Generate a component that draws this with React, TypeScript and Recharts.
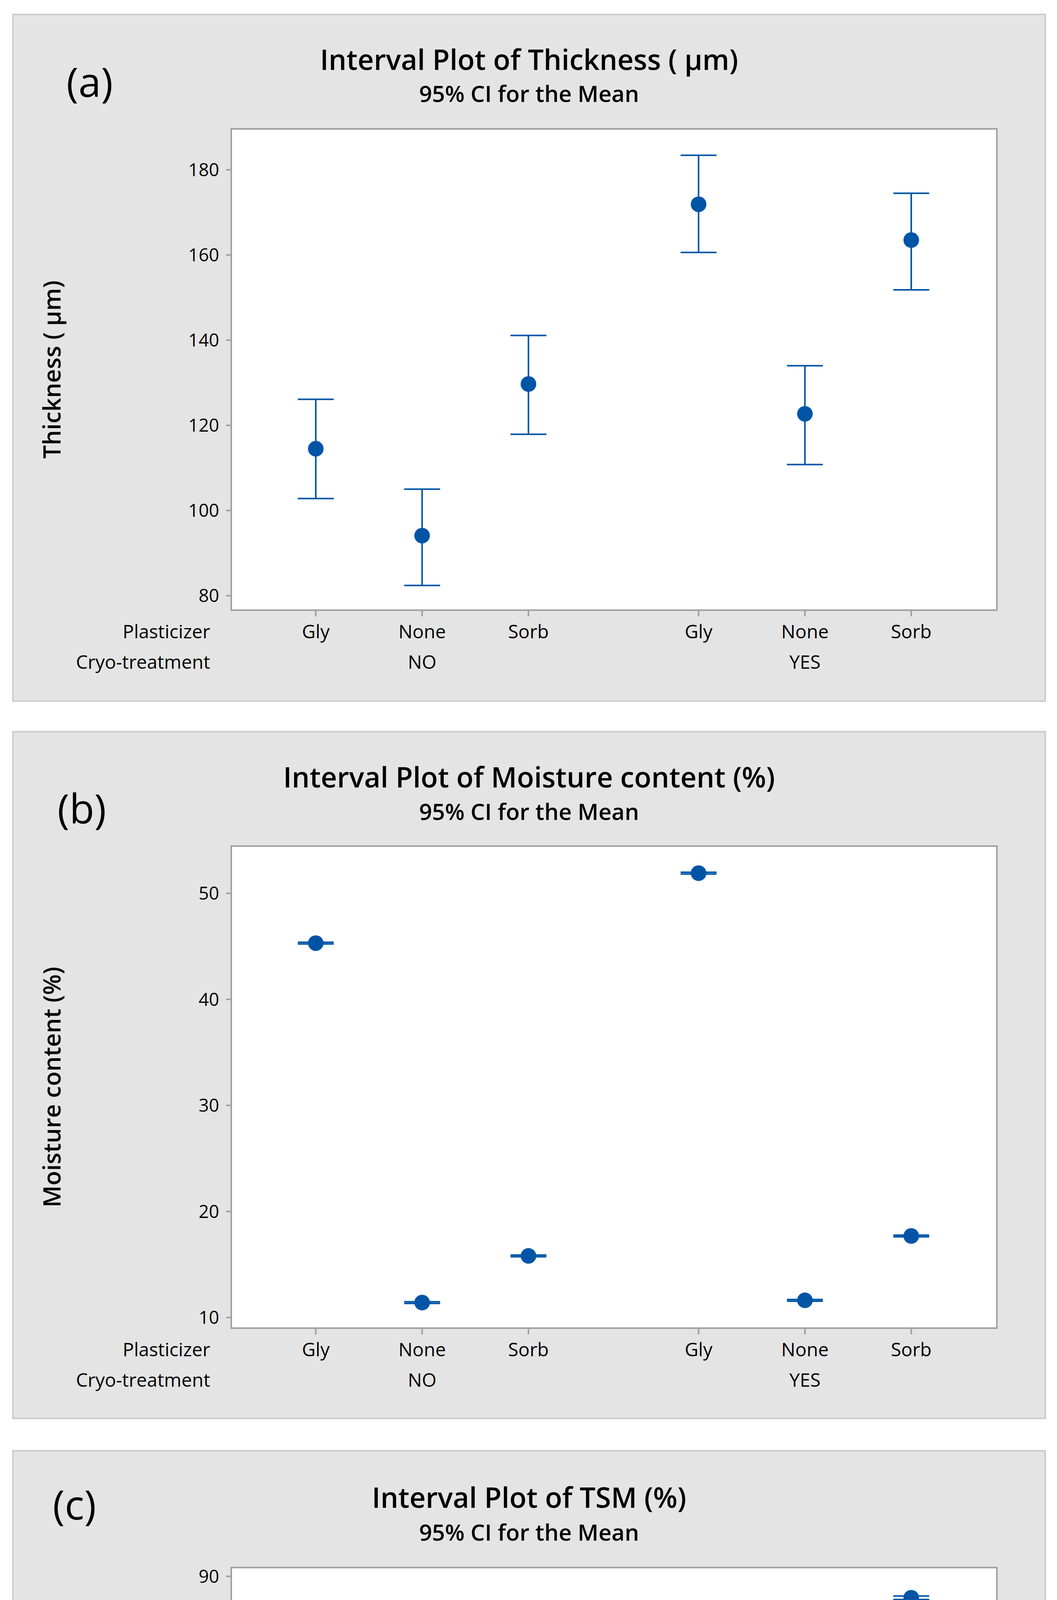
import React from "react";
import {
  ScatterChart,
  Scatter,
  ErrorBar,
  XAxis,
  YAxis,
  CartesianGrid,
  ReferenceArea,
} from "recharts";

// categories
const plasticizers = ["Gly", "None", "Sorb"];
const cryoTreatments = ["NO", "YES"];
const rowLabels = ["Plasticizer", "Cryo-treatment"];

// (a) thickness, µm
const thicknessMean = [114.5, 94.1, 129.7, 171.9, 122.7, 163.5];
const thicknessLower = [102.8, 82.4, 117.9, 160.6, 110.8, 151.8];
const thicknessUpper = [126.1, 105.0, 141.1, 183.4, 134.0, 174.5];
const thicknessTicks = [80, 100, 120, 140, 160, 180];

// (b) moisture content, %
const moistureMean = [45.3, 11.41, 15.81, 51.9, 11.62, 17.69];
const moistureLower = [45.22, 11.33, 15.73, 51.82, 11.54, 17.61];
const moistureUpper = [45.38, 11.49, 15.89, 51.98, 11.7, 17.77];
const moistureTicks = [10, 20, 30, 40, 50];

// (c) TSM, %
const tsmMean = [71.9, 7.45, 72.6, 67.9, 6.85, 85.85];
const tsmLower = [71.39, 6.95, 72.1, 67.53, 6.35, 85.5];
const tsmUpper = [72.42, 7.98, 73.14, 68.24, 7.35, 86.19];
const tsmTicks = [0, 10, 20, 30, 40, 50, 60, 70, 80, 90];

const FONT = "'Open Sans', 'Noto Sans', sans-serif";
const BLUE = "#0054a6";
const AXIS_GRAY = "#a0a0a0";

const BOX_LEFT = 31;
const BOX_W = 2647;
const PLOT_LEFT = 561;
const PLOT_W = 1960;
const ROW_LABEL_X = 507;
const GROUP_GAP = 0.6;

const xPos = cryoTreatments.flatMap((_, g) =>
  plasticizers.map((_, p) => g * (plasticizers.length + GROUP_GAP) + p)
);
const X_DOMAIN = [-0.795, xPos[xPos.length - 1] + 0.805];

function CategoryTick(props: any) {
  const { x, y, payload } = props;
  const i = xPos.findIndex((v) => Math.abs(v - payload.value) < 1e-6);
  if (i < 0) return null;
  const p = i % plasticizers.length;
  const g = Math.floor(i / plasticizers.length);
  const txt = { fontSize: 48, fontFamily: FONT, fill: "#000" };
  return (
    <g>
      <text x={x} y={y + 56} textAnchor="middle" {...txt}>
        {plasticizers[p]}
      </text>
      {p === 1 && (
        <text x={x} y={y + 134} textAnchor="middle" {...txt}>
          {cryoTreatments[g]}
        </text>
      )}
      {i === 0 && (
        <>
          <text x={ROW_LABEL_X} y={y + 56} textAnchor="end" {...txt}>
            {rowLabels[0]}
          </text>
          <text x={ROW_LABEL_X} y={y + 134} textAnchor="end" {...txt}>
            {rowLabels[1]}
          </text>
        </>
      )}
    </g>
  );
}

function MeanDot(props: any) {
  const { cx, cy } = props;
  if (cx == null || cy == null) return null;
  return <circle cx={cx} cy={cy} r={20} fill={BLUE} />;
}

interface PanelProps {
  top: number;
  height: number;
  plotTop: number;
  plotBottom: number;
  tag: string;
  tagX: number;
  tagBaseline: number;
  title: string;
  titleBaseline: number;
  subtitleBaseline: number;
  yLabel: string;
  mean: number[];
  lower: number[];
  upper: number[];
  yDomain: number[];
  yTicks: number[];
}

function IntervalPanel(p: PanelProps) {
  const rows = xPos.map((x, i) => ({
    x,
    y: p.mean[i],
    err: [p.mean[i] - p.lower[i], p.upper[i] - p.mean[i]],
  }));
  const xAxisH = p.height - p.plotBottom;
  const labelY = (p.plotTop + p.plotBottom) / 2;

  return (
    <div
      style={{
        position: "absolute",
        left: BOX_LEFT,
        top: p.top,
        width: BOX_W,
        height: p.height,
        background: "#e4e4e4",
        boxShadow: "inset 0 0 0 4px #cdcdcd",
      }}
    >
      <div style={{ position: "absolute", left: 0, top: 0 }}>
        <ScatterChart
          width={BOX_W}
          height={p.height}
          margin={{ top: p.plotTop, right: BOX_W - PLOT_LEFT - PLOT_W, bottom: 0, left: 0 }}
        >
          <CartesianGrid horizontal={false} vertical={false} fill="#ffffff" />
          <XAxis
            type="number"
            dataKey="x"
            domain={X_DOMAIN}
            ticks={xPos}
            interval={0}
            allowDataOverflow
            height={xAxisH}
            axisLine={false}
            tickLine={{ stroke: AXIS_GRAY, strokeWidth: 4 }}
            tickSize={16}
            tickMargin={0}
            tick={<CategoryTick />}
          />
          <YAxis
            type="number"
            dataKey="y"
            domain={p.yDomain}
            ticks={p.yTicks}
            interval={0}
            allowDataOverflow
            width={PLOT_LEFT}
            axisLine={false}
            tickLine={{ stroke: AXIS_GRAY, strokeWidth: 4 }}
            tickSize={13}
            tickMargin={18}
            tick={{ fontSize: 46, fontFamily: FONT, fill: "#000" }}
          />
          <ReferenceArea
            x1={X_DOMAIN[0]}
            x2={X_DOMAIN[1]}
            y1={p.yDomain[0]}
            y2={p.yDomain[1]}
            fill="none"
            stroke={AXIS_GRAY}
            strokeWidth={4}
            ifOverflow="visible"
          />
          <Scatter data={rows} fill={BLUE} shape={<MeanDot />} isAnimationActive={false}>
            <ErrorBar
              dataKey="err"
              direction="y"
              width={46}
              strokeWidth={4}
              stroke={BLUE}
              isAnimationActive={false}
            />
          </Scatter>
        </ScatterChart>
      </div>
      <svg
        width={BOX_W}
        height={p.height}
        style={{ position: "absolute", left: 0, top: 0, pointerEvents: "none" }}
        fontFamily={FONT}
      >
        <text x={p.tagX - BOX_LEFT} y={p.tagBaseline} fontSize={104} fill="#000">
          {p.tag}
        </text>
        <text x={BOX_W / 2} y={p.titleBaseline} textAnchor="middle" fontSize={72} fontWeight={600} fill="#000">
          {p.title}
        </text>
        <text x={BOX_W / 2} y={p.subtitleBaseline} textAnchor="middle" fontSize={58} fontWeight={600} fill="#000">
          95% CI for the Mean
        </text>
        <text
          transform={`translate(124, ${labelY}) rotate(-90)`}
          textAnchor="middle"
          fontSize={61}
          fontWeight={600}
          fill="#000"
        >
          {p.yLabel}
        </text>
      </svg>
    </div>
  );
}

export default function App() {
  return (
    <div
      style={{
        position: "relative",
        margin: "-8px 0 -8px -8px",
        width: 2706,
        height: 5461,
        background: "#ffffff",
        overflow: "hidden",
      }}
    >
      <IntervalPanel
        top={35}
        height={1762}
        plotTop={295}
        plotBottom={1527}
        tag="(a)"
        tagX={170}
        tagBaseline={213}
        title="Interval Plot of Thickness ( μm)"
        titleBaseline={144}
        subtitleBaseline={226}
        yLabel="Thickness ( μm)"
        mean={thicknessMean}
        lower={thicknessLower}
        upper={thicknessUpper}
        yDomain={[76.6, 189.6]}
        yTicks={thicknessTicks}
      />
      <IntervalPanel
        top={1871}
        height={1762}
        plotTop={295}
        plotBottom={1529}
        tag="(b)"
        tagX={147}
        tagBaseline={237}
        title="Interval Plot of Moisture content (%)"
        titleBaseline={145}
        subtitleBaseline={228}
        yLabel="Moisture content (%)"
        mean={moistureMean}
        lower={moistureLower}
        upper={moistureUpper}
        yDomain={[9.0, 54.45]}
        yTicks={moistureTicks}
      />
      <IntervalPanel
        top={3712}
        height={1716}
        plotTop={301}
        plotBottom={1528}
        tag="(c)"
        tagX={135}
        tagBaseline={178}
        title="Interval Plot of TSM (%)"
        titleBaseline={148}
        subtitleBaseline={232}
        yLabel="TSM (%)"
        mean={tsmMean}
        lower={tsmLower}
        upper={tsmUpper}
        yDomain={[-1.3, 91.7]}
        yTicks={tsmTicks}
      />
    </div>
  );
}
